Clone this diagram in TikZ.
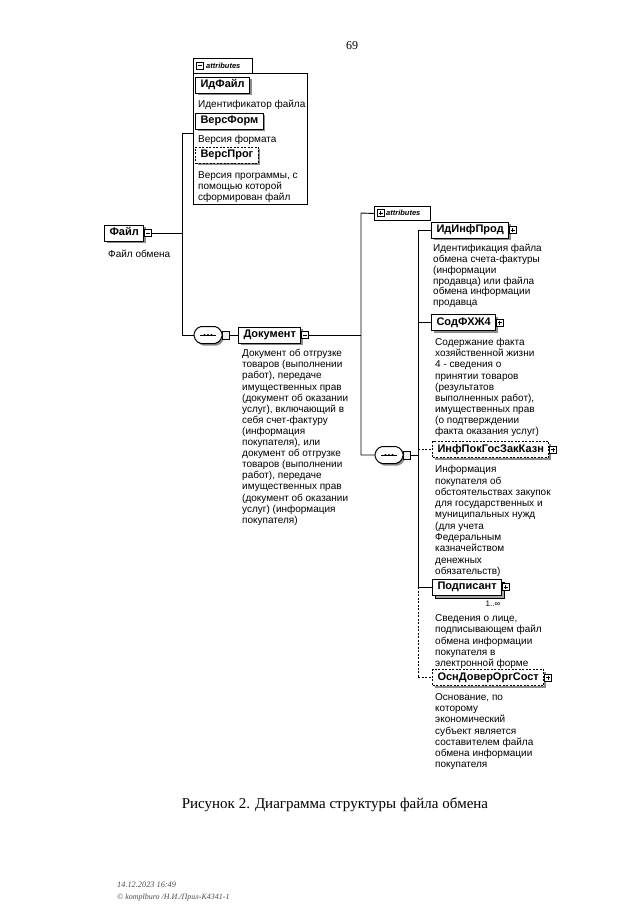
\documentclass[tikz,border=0pt]{standalone}
\usepackage{fontspec}
\setmainfont{Liberation Serif}
\newfontfamily\diagfont{Liberation Sans}
\usetikzlibrary{shapes.misc,shadows,calc}
\begin{document}
\begin{tikzpicture}[x=1pt,y=-1pt,
  conn/.style={line width=0.9pt},
  optconn/.style={line width=0.9pt, dash pattern=on 2pt off 1.5pt},
  elembase/.style={draw, line width=1pt, fill=white, anchor=west, inner xsep=5pt, inner ysep=0pt,
     minimum height=16pt, text height=7.9pt, text depth=2.3pt,
     font=\diagfont\bfseries\fontsize{11}{12}\selectfont},
  elem/.style={elembase, drop shadow={shadow xshift=2pt,shadow yshift=-2pt,fill=black!45,opacity=1}},
  optelem/.style={elem, dash pattern=on 2pt off 1.5pt},
  multelem/.style={elembase, copy shadow={shadow xshift=3pt,shadow yshift=-3pt,fill=black!35,draw=black,line width=0.8pt}},
  desc/.style={anchor=north west, inner sep=0pt, align=left, font=\diagfont\fontsize{10}{11.1}\selectfont},
  desc1/.style={anchor=base west, inner sep=0pt, font=\diagfont\fontsize{10}{11.1}\selectfont},
  tabbox/.style={draw, line width=1pt, fill=white, anchor=north west, minimum height=15pt, inner sep=0pt},
  tabtext/.style={anchor=west, inner sep=0pt, font=\diagfont\bfseries\itshape\fontsize{7.5}{9}\selectfont},
  seq/.style={minimum width=28pt, minimum height=17pt, inner sep=0pt},
  plusbox/.pic={\draw[line width=0.6pt, fill=white] (-3.5,-3.5) rectangle (3.5,3.5);
     \draw[line width=0.6pt] (-2,0) -- (2,0) (0,-2) -- (0,2);},
  minusbox/.pic={\draw[line width=0.6pt, fill=white] (-3.5,-3.5) rectangle (3.5,3.5);
     \draw[line width=0.6pt] (-2,0) -- (2,0);},
  emptybox/.pic={\draw[line width=0.7pt, fill=black!8] (-3.5,-4) rectangle (3.5,4);},
  seqshape/.pic={
     \fill[black!45, rounded corners=2pt] (-12,-1) -- (-7,-6.5) -- (11,-6.5) -- (16,-1) -- (16,5) -- (11,10.5) -- (-7,10.5) -- (-12,5) -- cycle;
     \draw[line width=1pt, fill=white, rounded corners=2pt] (-14,-3) -- (-9,-8.5) -- (9,-8.5) -- (14,-3) -- (14,3) -- (9,8.5) -- (-9,8.5) -- (-14,3) -- cycle;
     \draw[line width=0.8pt] (-8,0) -- (8,0);
     \foreach \d in {-3.5,0,3.5} \fill (\d,0) circle (1.2pt);}
]
\useasboundingbox (0,0) rectangle (640,922);
\fill[white] (0,0) rectangle (640,922);

% page number
\node[anchor=base, inner sep=0pt, font=\fontsize{12}{14}\selectfont] (pg) at (352,49) {69};

% ---------- left attributes group ----------
\node[draw, line width=1pt, anchor=north west, minimum width=114pt, minimum height=131pt, inner sep=0pt] (attrL) at (193,73) {};
\node[tabbox, minimum width=59pt] (tabL) at (193,58) {};
\pic at (199.5,65.5) {minusbox};
\node[tabtext] (tabLt) at (206,65.5) {attributes};

\node[elem] (idf) at (195,85) {ИдФайл};
\node[desc1] (idfd) at (198,107.5) {Идентификатор файла};
\node[elem] (vf) at (195,121) {ВерсФорм};
\node[desc1] (vfd) at (198,142.5) {Версия формата};
\node[optelem] (vp) at (195,155) {ВерсПрог};
\node[desc, font=\diagfont\fontsize{10}{10.7}\selectfont] (vpd) at (198,170.5)
  {\rule{0pt}{8pt}Версия программы, с\\помощью которой\\сформирован файл};

% ---------- root ----------
\node[elem] (fajl) at (104,233) {Файл};
\pic at ($(fajl.east)+(3.5,0)$) {minusbox};
\coordinate (fajlI) at ($(fajl.east)+(7,0)$);
\node[desc1] (fajld) at (108,257.5) {Файл обмена};

% ---------- sequence 1 and Документ ----------
\node[seq] (s1) at (208,335) {};
\pic at (s1) {seqshape};
\pic at (225.5,335) {emptybox};
\coordinate (s1I) at (229,335);

\node[elem] (dok) at (238,335) {Документ};
\pic at ($(dok.east)+(3.5,0)$) {minusbox};
\coordinate (dokI) at ($(dok.east)+(7,0)$);
\node[desc] (dokd) at (242,348.5) {\rule{0pt}{8pt}Документ об отгрузке\\товаров (выполнении\\работ), передаче\\имущественных прав\\(документ об оказании\\услуг), включающий в\\себя счет-фактуру\\(информация\\покупателя), или\\документ об отгрузке\\товаров (выполнении\\работ), передаче\\имущественных прав\\(документ об оказании\\услуг) (информация\\покупателя)};

% ---------- right attributes tab ----------
\node[tabbox, minimum width=56pt, minimum height=14pt] (tabR) at (374,206) {};
\pic at (380.5,213) {plusbox};
\node[tabtext] (tabRt) at (386,213) {attributes};

% ---------- sequence 2 ----------
\node[seq] (s2) at (389,455) {};
\pic at (s2) {seqshape};
\pic at (406.5,455) {emptybox};
\coordinate (s2I) at (410,455);

% ---------- children ----------
\node[elem] (idp) at (431,230) {ИдИнфПрод};
\pic at ($(idp.east)+(3.5,0)$) {plusbox};
\node[desc, font=\diagfont\fontsize{10}{10.8}\selectfont] (idpd) at (433,243.5) {\rule{0pt}{8pt}Идентификация файла\\обмена счета-фактуры\\(информации\\продавца) или файла\\обмена информации\\продавца};

\node[elem] (sod) at (431,322.5) {СодФХЖ4};
\pic at ($(sod.east)+(3.5,0)$) {plusbox};
\node[desc] (sodd) at (435,337.5) {\rule{0pt}{8pt}Содержание факта\\хозяйственной жизни\\4 - сведения о\\принятии товаров\\(результатов\\выполненных работ),\\имущественных прав\\(о подтверждении\\факта оказания услуг)};

\node[optelem] (inf) at (432,449.5) {ИнфПокГосЗакКазн};
\pic at ($(inf.east)+(3.5,0)$) {plusbox};
\node[desc, font=\diagfont\fontsize{10}{11.3}\selectfont] (infd) at (435,464.5) {\rule{0pt}{8pt}Информация\\покупателя об\\обстоятельствах закупок\\для государственных и\\муниципальных нужд\\(для учета\\Федеральным\\казначейством\\денежных\\обязательств)};

\node[multelem] (pod) at (432,587) {Подписант};
\pic at ($(pod.east)+(3.5,0)$) {plusbox};
\node[anchor=base, inner sep=0pt, font=\diagfont\fontsize{8}{9}\selectfont] (podm) at (493,606.5) {1..∞};
\node[desc, font=\diagfont\fontsize{10}{11.2}\selectfont] (podd) at (435,613.5) {\rule{0pt}{8pt}Сведения о лице,\\подписывающем файл\\обмена информации\\покупателя в\\электронной форме};

\node[optelem] (osn) at (432,677.5) {ОснДоверОргСост};
\pic at ($(osn.east)+(3.5,0)$) {plusbox};
\node[desc] (osnd) at (435,692.5) {\rule{0pt}{8pt}Основание, по\\которому\\экономический\\субъект является\\составителем файла\\обмена информации\\покупателя};

% ---------- connectors ----------
\coordinate (jL) at (182,233);
\coordinate (jLt) at (182,133);
\coordinate (jLb) at (182,335);
\draw[conn] (fajlI) -- (jL);
\draw[conn] (jLt -| attrL.west) -- (jLt) -- (jLb) -- (s1.west);
\draw[conn] (s1I) -- (dok.west);

\coordinate (jRm) at (361,335);
\coordinate (jRt) at (361,213);
\coordinate (jRb) at (361,455);
\draw[conn] (dokI) -- (jRm);
\draw[conn] (tabR.west) -- (jRt) -- (jRb) -- (s2.west);

\coordinate (jS) at (418,455);
\coordinate (b1) at (418,230);
\coordinate (b2) at (418,322.5);
\coordinate (b3) at (418,449.5);
\coordinate (b4) at (418,587);
\coordinate (b5) at (418,677.5);
\draw[conn] (s2I) -- (jS);
\draw[conn] (b1) -- (b4);
\draw[optconn] (b4) -- (b5);
\draw[conn] (b1) -- (idp.west);
\draw[conn] (b2) -- (sod.west);
\draw[optconn] (b3) -- (inf.west);
\draw[conn] (b4) -- (pod.west);
\draw[optconn] (b5) -- (osn.west);

% ---------- caption and footer ----------
\node[anchor=base, inner sep=0pt, font=\fontsize{15}{17}\selectfont] (cap) at (335,808) {Рисунок 2. Диаграмма структуры файла обмена};
\node[anchor=base west, inner sep=0pt, text=black!70, font=\itshape\fontsize{8.3}{12}\selectfont] (foot) at (117,887) {14.12.2023 16:49};
\node[anchor=base west, inner sep=0pt, text=black!70, font=\itshape\fontsize{8}{12}\selectfont] (foot2) at (117,899) {© komplburo /Н.И./Прил-К4341-1};
\end{tikzpicture}
\end{document}
